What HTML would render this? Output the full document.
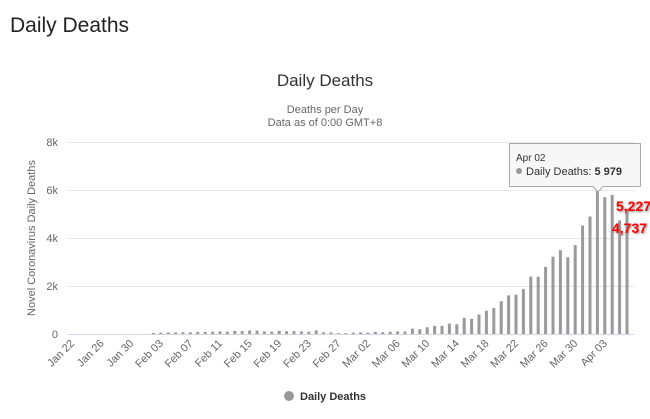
<!DOCTYPE html>
<html><head><meta charset="utf-8"><style>
body{margin:0;width:650px;height:419px;background:#fff;overflow:hidden;font-family:"Liberation Sans",sans-serif}
</style></head><body>
<div style="position:absolute;left:10px;top:14px;font-size:21px;color:#222">Daily Deaths</div>
<svg id="chart" width="650" height="419" style="position:absolute;left:0;top:0;font-family:'Liberation Sans',sans-serif">
<text x="325" y="86" text-anchor="middle" font-size="17" fill="#333">Daily Deaths</text>
<text x="325" y="113" text-anchor="middle" font-size="11" fill="#666">Deaths per Day</text>
<text x="325" y="126" text-anchor="middle" font-size="11" fill="#666">Data as of 0:00 GMT+8</text>
<text transform="translate(35,238) rotate(-90)" text-anchor="middle" font-size="11" fill="#666">Novel Coronavirus Daily Deaths</text>
<g id="grid"></g><g id="bars"></g><g id="xl"></g>
<g>
<circle cx="289" cy="396" r="5" fill="#999"/>
<text x="300" y="400" font-size="11" font-weight="bold" fill="#333">Daily Deaths</text>
</g>
<g>
<path d="M509.5,143.5 H640.5 V186.5 H603 L598,192 L593,186.5 H509.5 Z" fill="#f7f7f7" stroke="#aaa" stroke-width="1"/>
<text x="516" y="161" font-size="10" fill="#333">Apr 02</text>
<circle cx="519" cy="171" r="3" fill="#999"/>
<text x="526" y="175" font-size="11" fill="#333">Daily Deaths: <tspan font-weight="bold">5 979</tspan></text>
</g>
<g font-size="14" font-weight="bold" fill="#f00" style="text-shadow:1px 1px 2px #888">
<text x="616" y="211">5,227</text>
<text x="612" y="233">4,737</text>
</g>
</svg>
<script>
const categories=["Jan 22","Jan 23","Jan 24","Jan 25","Jan 26","Jan 27","Jan 28","Jan 29","Jan 30","Jan 31","Feb 01","Feb 02","Feb 03","Feb 04","Feb 05","Feb 06","Feb 07","Feb 08","Feb 09","Feb 10","Feb 11","Feb 12","Feb 13","Feb 14","Feb 15","Feb 16","Feb 17","Feb 18","Feb 19","Feb 20","Feb 21","Feb 22","Feb 23","Feb 24","Feb 25","Feb 26","Feb 27","Feb 28","Feb 29","Mar 01","Mar 02","Mar 03","Mar 04","Mar 05","Mar 06","Mar 07","Mar 08","Mar 09","Mar 10","Mar 11","Mar 12","Mar 13","Mar 14","Mar 15","Mar 16","Mar 17","Mar 18","Mar 19","Mar 20","Mar 21","Mar 22","Mar 23","Mar 24","Mar 25","Mar 26","Mar 27","Mar 28","Mar 29","Mar 30","Mar 31","Apr 01","Apr 02","Apr 03","Apr 04","Apr 05","Apr 06"];
const deaths=[0,0,0,0,0,0,0,0,0,0,0,45,57,64,66,73,73,86,89,97,108,97,130,121,143,142,106,98,136,115,118,109,97,150,71,64,37,35,58,69,55,89,75,95,107,103,227,198,281,337,339,438,404,675,634,813,970,1080,1367,1609,1638,1872,2392,2386,2798,3219,3494,3203,3707,4517,4893,5979,5700,5800,4737,5227];
const yTicks=[0,2000,4000,6000,8000];
const yTickLabels=["0","2k","4k","6k","8k"];
const ns="http://www.w3.org/2000/svg";
const x0=72,step=7.4,yBase=334,yTop=142,yMax=8000;
const xs=i=>x0+i*step;
const ys=v=>yBase-(v/yMax)*(yBase-yTop);
const grid=document.getElementById('grid');
yTicks.forEach((t,i)=>{
 const l=document.createElementNS(ns,'line');
 
 
 l.setAttribute('x1',68);l.setAttribute('x2',634);
 l.setAttribute('y1',Math.round(ys(t))+0.5);l.setAttribute('y2',Math.round(ys(t))+0.5);
 l.setAttribute('stroke',t===0?'#ccd6eb':'#e6e6e6');
 grid.appendChild(l);
 const tx=document.createElementNS(ns,'text');
 
 
 tx.setAttribute('x',58);tx.setAttribute('y',ys(t)+4);
 tx.setAttribute('text-anchor','end');tx.setAttribute('font-size','11');tx.setAttribute('fill','#666');
 tx.textContent=yTickLabels[i];grid.appendChild(tx);
});
const bars=document.getElementById('bars');
deaths.forEach((v,i)=>{
 if(v<=0)return;
 const r=document.createElementNS(ns,'rect');
 
 
 const y=ys(v);
 r.setAttribute('x',xs(i)-1.5);r.setAttribute('y',y);
 r.setAttribute('width',3);r.setAttribute('height',Math.max(yBase-y,0.8));
 r.setAttribute('fill','#9a9a9a');
 bars.appendChild(r);
});
const xl=document.getElementById('xl');
categories.forEach((c,i)=>{
 if(i%4!==0)return;
 const t=document.createElementNS(ns,'text');
 
 
 const x=xs(i)+3,y=344;
 t.setAttribute('transform',`translate(${x},${y}) rotate(-45)`);
 t.setAttribute('text-anchor','end');t.setAttribute('font-size','11');t.setAttribute('fill','#666');
 t.textContent=c;xl.appendChild(t);
});
</script>
</body></html>
